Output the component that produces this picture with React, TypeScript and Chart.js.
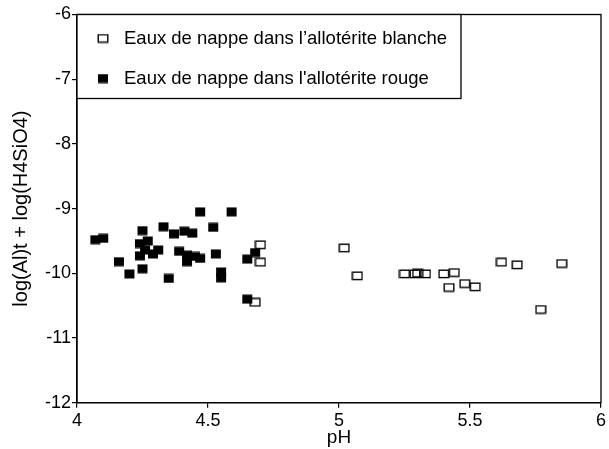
import React, { useEffect, useRef } from 'react';
import { Chart, registerables } from 'chart.js';

Chart.register(...registerables);

const seriesLabels = [
  'Eaux de nappe dans l\u2019allotérite blanche',
  "Eaux de nappe dans l'allotérite rouge",
];

// Eaux de nappe dans l'allotérite blanche (open squares)
const blanchePH = [4.70, 4.70, 4.68, 5.02, 5.07, 5.25, 5.29, 5.30, 5.33, 5.40, 5.44, 5.42, 5.48, 5.52, 5.62, 5.68, 5.77, 5.85];
const blancheLog = [-9.56, -9.83, -10.45, -9.61, -10.04, -10.01, -10.01, -10.0, -10.01, -10.01, -9.99, -10.22, -10.16, -10.21, -9.83, -9.87, -10.56, -9.85];

// Eaux de nappe dans l'allotérite rouge (filled squares)
const rougePH = [4.07, 4.10, 4.16, 4.20, 4.25, 4.24, 4.24, 4.25, 4.27, 4.26, 4.29, 4.31, 4.33, 4.35, 4.37, 4.39, 4.41, 4.42, 4.42, 4.44, 4.45, 4.47, 4.47, 4.52, 4.53, 4.55, 4.55, 4.59, 4.65, 4.68, 4.65];
const rougeLog = [-9.48, -9.46, -9.82, -10.01, -9.34, -9.54, -9.73, -9.93, -9.50, -9.64, -9.70, -9.64, -9.28, -10.08, -9.39, -9.66, -9.35, -9.82, -9.72, -9.38, -9.74, -9.05, -9.77, -9.29, -9.70, -9.98, -10.07, -9.05, -9.78, -9.68, -10.40];

const xTicks = [4, 4.5, 5, 5.5, 6];
const yTicks = [-12, -11, -10, -9, -8, -7, -6];
const xTitle = 'pH';
const yTitle = 'log(Al)t + log(H4SiO4)';

const FONT = '"Liberation Sans", Arial, Helvetica, sans-serif';

function makeMarker(filled: boolean): HTMLCanvasElement {
  const c = document.createElement('canvas');
  c.width = 12;
  c.height = 10;
  const ctx = c.getContext('2d')!;
  if (filled) {
    ctx.fillStyle = '#000';
    ctx.fillRect(1, 0.5, 10, 9);
  } else {
    ctx.strokeStyle = '#000';
    ctx.lineWidth = 1.4;
    ctx.strokeRect(1.2, 1.2, 9.6, 7.4);
  }
  return c;
}

export default function App() {
  const ref = useRef<HTMLCanvasElement | null>(null);

  useEffect(() => {
    if (!ref.current) return;
    const openM = makeMarker(false);
    const fillM = makeMarker(true);

    const framePlugin = {
      id: 'frameAndLegend',
      afterDraw(chart: any) {
        const { ctx, chartArea } = chart;
        const { left, top, right, bottom } = chartArea;
        ctx.save();
        ctx.strokeStyle = '#000';
        ctx.lineWidth = 1.3;
        ctx.strokeRect(left, top, right - left, bottom - top);
        // legend box
        const lw = 384;
        const lh = 84;
        ctx.fillStyle = '#fff';
        ctx.fillRect(left, top, lw, lh);
        ctx.strokeRect(left, top, lw, lh);
        ctx.font = `18.5px ${FONT}`;
        ctx.fillStyle = '#000';
        ctx.textBaseline = 'middle';
        ctx.textAlign = 'left';
        const markers = [openM, fillM];
        const rows = [24, 64];
        chart.data.datasets.forEach((ds: any, i: number) => {
          const cy = top + rows[i];
          const m = markers[i];
          ctx.drawImage(m, left + 26 - m.width / 2, cy - m.height / 2);
          ctx.fillText(ds.label, left + 47, cy);
        });
        ctx.restore();
      },
    };

    const chart = new Chart(ref.current, {
      type: 'scatter',
      data: {
        datasets: [
          {
            label: seriesLabels[0],
            data: blanchePH.map((x, i) => ({ x, y: blancheLog[i] })),
            pointStyle: openM as any,
            pointRadius: 6,
          },
          {
            label: seriesLabels[1],
            data: rougePH.map((x, i) => ({ x, y: rougeLog[i] })),
            pointStyle: fillM as any,
            pointRadius: 6,
          },
        ],
      },
      options: {
        animation: false,
        responsive: false,
        events: [],
        layout: { padding: { left: 0, top: 14.5, right: 8, bottom: 0 } },
        plugins: {
          legend: { display: false },
          tooltip: { enabled: false },
        },
        scales: {
          x: {
            type: 'linear',
            min: 4,
            max: 6,
            afterBuildTicks: (s: any) => {
              s.ticks = xTicks.map((v) => ({ value: v }));
            },
            afterFit: (s: any) => {
              s.height = 46.3;
            },
            grid: { drawOnChartArea: false, drawTicks: true, tickLength: 5, color: '#000', lineWidth: 1.2 },
            border: { display: true, color: '#000', width: 1.3 },
            ticks: {
              color: '#000',
              font: { family: FONT, size: 18 },
              padding: 3,
              maxRotation: 0,
              callback: (v: any) => String(v),
            },
            title: { display: true, text: xTitle, color: '#000', font: { family: FONT, size: 19 }, padding: { top: 0, bottom: 0 } },
          },
          y: {
            type: 'linear',
            min: -12,
            max: -6,
            afterBuildTicks: (s: any) => {
              s.ticks = yTicks.map((v) => ({ value: v }));
            },
            afterFit: (s: any) => {
              s.width = 77;
            },
            grid: { drawOnChartArea: false, drawTicks: true, tickLength: 5, color: '#000', lineWidth: 1.2 },
            border: { display: true, color: '#000', width: 1.3 },
            ticks: { color: '#000', font: { family: FONT, size: 18 }, padding: 1, callback: (v: any) => String(v) },
            title: { display: true, text: yTitle, color: '#000', font: { family: FONT, size: 20 }, padding: { top: 9, bottom: 0 } },
          },
        },
      },
      plugins: [framePlugin],
    });
    return () => chart.destroy();
  }, []);

  return (
    <div style={{ position: 'fixed', left: 0, top: 0, width: 609, height: 449, background: '#fff' }}>
      <canvas ref={ref} width={609} height={449} style={{ display: 'block', width: 609, height: 449 }} />
    </div>
  );
}
